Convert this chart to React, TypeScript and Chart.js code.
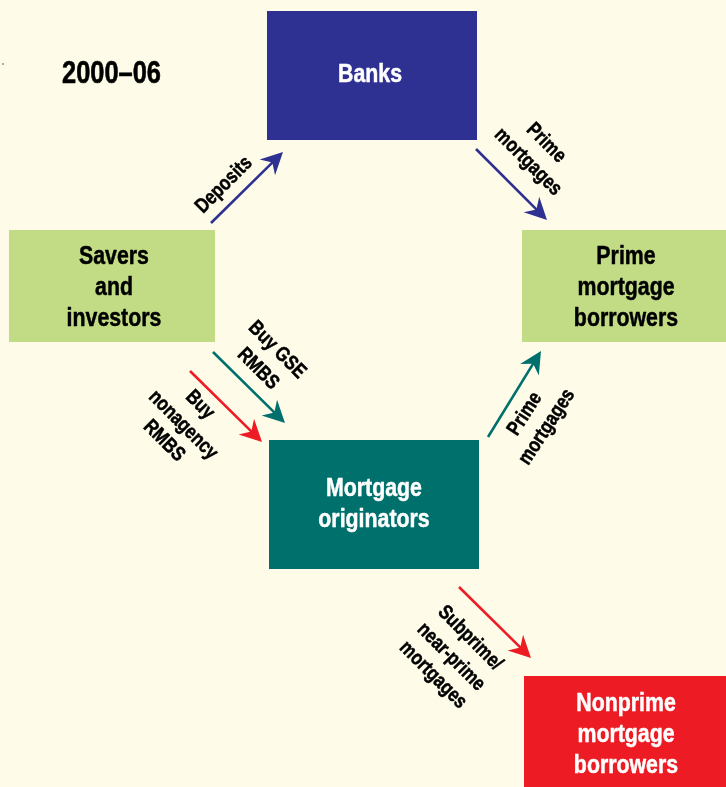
import React, { useEffect, useRef } from 'react';
import { Chart, registerables } from 'chart.js';

Chart.register(...registerables);

// ---- Data ----
const titleText = '2000–06';

const boxNames = ['Banks', 'Savers\nand\ninvestors', 'Prime\nmortgage\nborrowers', 'Mortgage\noriginators', 'Nonprime\nmortgage\nborrowers'];
const boxLeft = [267, 9, 522, 269, 524];
const boxRight = [477, 215, 726, 479, 726];
const boxTop = [11, 230, 230, 440, 676];
const boxBottom = [140, 342, 342, 569, 787];
const boxTextX = [370, 114, 626, 374, 626];
const boxTextBaseline = [82, 264, 264, 496, 711];

const arrowFromX = [211, 476, 213, 190, 488, 459];
const arrowFromY = [223, 149, 352, 371, 437, 587];
const arrowToX = [283, 547, 285, 262, 541, 531];
const arrowToY = [152, 220, 423, 442, 351, 658];

const labelLines = ['Deposits', 'Prime', 'mortgages', 'Buy GSE', 'RMBS', 'Buy', 'nonagency', 'RMBS', 'Prime', 'mortgages', 'Subprime/', 'near-prime', 'mortgages'];
const labelX = [224, 546, 528, 277, 258, 200, 183, 164, 525, 547, 470, 451, 433];
const labelY = [185, 143, 162, 350, 369, 405, 425, 441, 414, 427, 638, 657, 675];
const labelAngle = [-45, 45, 45, 45, 45, 45, 45, 45, -57, -57, 45, 45, 45];

// ---- Styles ----
const NAVY = '#2E3192';
const TEAL = '#00706C';
const GREEN = '#C1DC85';
const RED = '#ED1C24';
const BG = '#FEFCE9';
const boxFill = [NAVY, GREEN, GREEN, TEAL, RED];
const boxTextColor = ['#ffffff', '#000000', '#000000', '#ffffff', '#ffffff'];
const arrowColor = [NAVY, NAVY, TEAL, RED, TEAL, RED];
const FONT = '"Liberation Sans", Arial, Helvetica, sans-serif';
const NARROW = 0.82;

const W = 726;
const H = 787;

function narrowText(ctx: any, text: string, x: number, y: number, angleDeg: number, stroke: number) {
  ctx.save();
  ctx.translate(x, y);
  if (angleDeg) ctx.rotate((angleDeg * Math.PI) / 180);
  ctx.scale(NARROW, 1);
  ctx.fillText(text, 0, 0);
  if (stroke > 0) {
    ctx.strokeStyle = ctx.fillStyle;
    ctx.lineWidth = stroke;
    ctx.lineJoin = 'round';
    ctx.strokeText(text, 0, 0);
  }
  ctx.restore();
}

const diagramPlugin = {
  id: 'diagram',
  beforeDraw(chart: any) {
    const ctx = chart.ctx;
    ctx.save();
    ctx.fillStyle = BG;
    ctx.fillRect(0, 0, chart.width, chart.height);
    ctx.restore();
  },
  beforeDatasetsDraw(chart: any) {
    const ctx = chart.ctx;
    const xs = chart.scales.x;
    const ys = chart.scales.y;
    ctx.save();
    for (let i = 0; i < boxNames.length; i++) {
      const x0 = xs.getPixelForValue(boxLeft[i]);
      const x1 = xs.getPixelForValue(boxRight[i]);
      const y0 = ys.getPixelForValue(boxTop[i]);
      const y1 = ys.getPixelForValue(boxBottom[i]);
      ctx.fillStyle = boxFill[i];
      ctx.fillRect(Math.min(x0, x1), Math.min(y0, y1), Math.abs(x1 - x0), Math.abs(y1 - y0));
    }
    ctx.restore();
  },
  afterDatasetsDraw(chart: any) {
    const ctx = chart.ctx;
    const xs = chart.scales.x;
    const ys = chart.scales.y;
    ctx.save();
    // arrowheads
    for (let i = 0; i < arrowToX.length; i++) {
      const fx = xs.getPixelForValue(arrowFromX[i]);
      const fy = ys.getPixelForValue(arrowFromY[i]);
      const tx = xs.getPixelForValue(arrowToX[i]);
      const ty = ys.getPixelForValue(arrowToY[i]);
      const len = Math.hypot(tx - fx, ty - fy);
      const ux = (tx - fx) / len;
      const uy = (ty - fy) / len;
      const px = -uy;
      const py = ux;
      const L = 22, HW = 11, N = 15;
      ctx.beginPath();
      ctx.moveTo(tx, ty);
      ctx.lineTo(tx - L * ux + HW * px, ty - L * uy + HW * py);
      ctx.lineTo(tx - N * ux, ty - N * uy);
      ctx.lineTo(tx - L * ux - HW * px, ty - L * uy - HW * py);
      ctx.closePath();
      ctx.fillStyle = arrowColor[i];
      ctx.fill();
    }
    // box texts
    ctx.textAlign = 'center';
    ctx.textBaseline = 'alphabetic';
    ctx.font = `bold 26px ${FONT}`;
    for (let i = 0; i < boxNames.length; i++) {
      const lines = boxNames[i].split('\n');
      ctx.fillStyle = boxTextColor[i];
      const x = xs.getPixelForValue(boxTextX[i]);
      const y = ys.getPixelForValue(boxTextBaseline[i]);
      lines.forEach((ln, k) => narrowText(ctx, ln, x, y + k * 31, 0, 0.5));
    }
    // arrow labels
    ctx.font = `bold 20.5px ${FONT}`;
    ctx.fillStyle = '#000000';
    ctx.textBaseline = 'middle';
    for (let i = 0; i < labelLines.length; i++) {
      narrowText(ctx, labelLines[i], xs.getPixelForValue(labelX[i]), ys.getPixelForValue(labelY[i]), labelAngle[i], 0.5);
    }
    // title
    ctx.textAlign = 'left';
    ctx.textBaseline = 'alphabetic';
    ctx.font = `bold 31px ${FONT}`;
    narrowText(ctx, titleText, xs.getPixelForValue(62), ys.getPixelForValue(83), 0, 0.6);
    ctx.restore();
  },
};

export default function App() {
  const ref = useRef<HTMLCanvasElement | null>(null);
  useEffect(() => {
    document.body.style.margin = '0';
    document.body.style.background = BG;
    const canvas = ref.current;
    if (!canvas) return;
    const datasets: any[] = arrowFromX.map((_, i) => {
      const len = Math.hypot(arrowToX[i] - arrowFromX[i], arrowToY[i] - arrowFromY[i]);
      const ux = (arrowToX[i] - arrowFromX[i]) / len;
      const uy = (arrowToY[i] - arrowFromY[i]) / len;
      return {
        data: [
          { x: arrowFromX[i], y: arrowFromY[i] },
          { x: arrowToX[i] - 14 * ux, y: arrowToY[i] - 14 * uy },
        ],
        showLine: true,
        borderColor: arrowColor[i],
        borderWidth: 2.6,
        pointRadius: 0,
        pointHoverRadius: 0,
        fill: false,
      };
    });
    datasets.push({
      data: [{ x: 3, y: 64 }],
      showLine: false,
      pointRadius: 0.8,
      pointHoverRadius: 0,
      backgroundColor: '#444',
      borderWidth: 0,
    });
    const chart = new Chart(canvas, {
      type: 'scatter',
      data: { datasets },
      options: {
        responsive: false,
        animation: false,
        events: [],
        layout: { padding: 0, autoPadding: false },
        plugins: { legend: { display: false }, tooltip: { enabled: false } },
        scales: {
          x: { type: 'linear', min: 0, max: W, display: false },
          y: { type: 'linear', min: 0, max: H, reverse: true, display: false },
        },
      },
      plugins: [diagramPlugin],
    } as any);
    return () => chart.destroy();
  }, []);
  return <canvas ref={ref} width={W} height={H} style={{ display: 'block', width: W, height: H }} />;
}
